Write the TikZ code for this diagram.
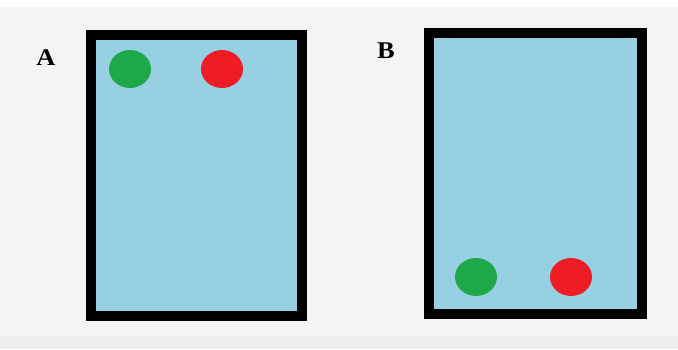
\documentclass[tikz,border=0pt]{standalone}
\usepackage{fontspec}
\setmainfont{Liberation Serif}
\definecolor{bgc}{HTML}{F4F4F4}
\definecolor{water}{HTML}{96D0E2}
\definecolor{ballg}{HTML}{1EA84A}
\definecolor{ballr}{HTML}{EE1C24}
\tikzset{
  tank/.style={draw=black, line width=10pt, fill=water},
  ball/.style={ellipse, minimum width=42pt, minimum height=38pt, inner sep=0pt},
  lab/.style={font=\bfseries\fontsize{24}{24}\selectfont, inner sep=0pt, xscale=1.1}
}
\usetikzlibrary{shapes.geometric}
\begin{document}
\begin{tikzpicture}[x=1pt,y=-1pt]
\useasboundingbox (0,0) rectangle (678,349);
\fill[white] (0,0) rectangle (678,349);
\fill[bgc] (0,7) rectangle (678,349);
\fill[black!7] (0,336) rectangle (678,349);
\draw[tank] (91,35) rectangle (302,316);
\draw[tank] (429,33) rectangle (642,314);
\node[lab] (A) at (46,58) {A};
\node[lab] (B) at (386,51) {B};
\node[ball, fill=ballg] (gA) at (130,69) {};
\node[ball, fill=ballr] (rA) at (222,69) {};
\node[ball, fill=ballg] (gB) at (476,277) {};
\node[ball, fill=ballr] (rB) at (571,277) {};
\end{tikzpicture}
\end{document}
